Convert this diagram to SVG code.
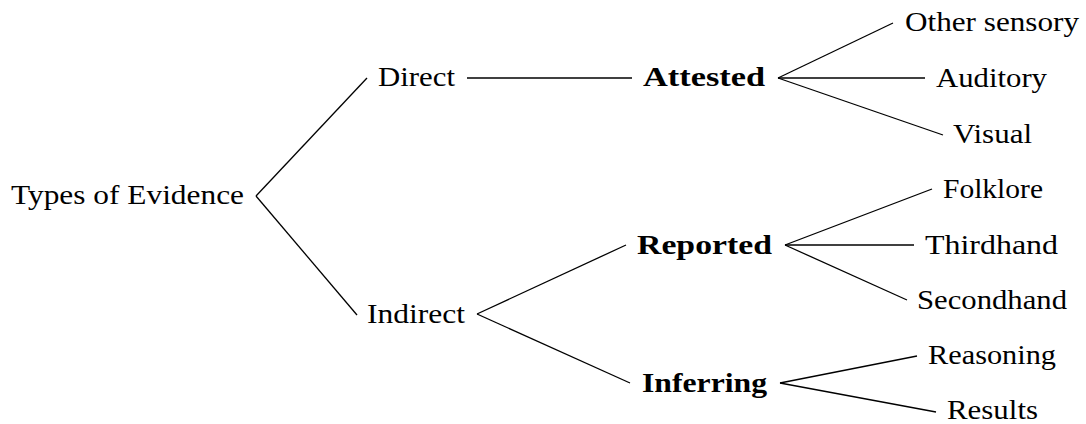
<svg xmlns="http://www.w3.org/2000/svg" width="1086" height="424" viewBox="0 0 1086 424">
<style>
text{font-family:"Liberation Serif","Times New Roman",Times,serif;font-size:28px;fill:#000;}
.b{font-weight:bold;}
.edge{stroke:#000;stroke-width:1.3;fill:none;}
</style>
<rect width="1086" height="424" fill="#fff"/>
<g id="connectors">
<line class="edge" x1="256" y1="196" x2="367" y2="78"/>
<line class="edge" x1="256" y1="196" x2="357" y2="315"/>
<line class="edge" x1="467" y1="78" x2="632" y2="78"/>
<line class="edge" x1="778" y1="78" x2="893" y2="23"/>
<line class="edge" x1="778" y1="78" x2="925" y2="78"/>
<line class="edge" x1="778" y1="78" x2="943" y2="135"/>
<line class="edge" x1="477" y1="314" x2="626" y2="245"/>
<line class="edge" x1="477" y1="314" x2="630" y2="383"/>
<line class="edge" x1="785" y1="245" x2="932" y2="189"/>
<line class="edge" x1="785" y1="245" x2="914" y2="245"/>
<line class="edge" x1="785" y1="245" x2="907" y2="300"/>
<line class="edge" x1="780" y1="383" x2="917" y2="356"/>
<line class="edge" x1="780" y1="383" x2="936" y2="412"/>
</g>
<g id="root"><text x="11" y="204" textLength="233" lengthAdjust="spacingAndGlyphs">Types of Evidence</text></g>
<g id="direct"><text x="378" y="86" textLength="77" lengthAdjust="spacingAndGlyphs">Direct</text></g>
<g id="attested"><text class="b" x="643" y="86" textLength="122" lengthAdjust="spacingAndGlyphs">Attested</text></g>
<g id="other-sensory"><text x="905" y="31" textLength="174" lengthAdjust="spacingAndGlyphs">Other sensory</text></g>
<g id="auditory"><text x="936" y="87" textLength="111" lengthAdjust="spacingAndGlyphs">Auditory</text></g>
<g id="visual"><text x="953" y="143" textLength="79" lengthAdjust="spacingAndGlyphs">Visual</text></g>
<g id="indirect"><text x="367" y="323" textLength="98" lengthAdjust="spacingAndGlyphs">Indirect</text></g>
<g id="reported"><text class="b" x="637" y="254" textLength="135" lengthAdjust="spacingAndGlyphs">Reported</text></g>
<g id="folklore"><text x="943" y="198" textLength="100" lengthAdjust="spacingAndGlyphs">Folklore</text></g>
<g id="thirdhand"><text x="925" y="254" textLength="133" lengthAdjust="spacingAndGlyphs">Thirdhand</text></g>
<g id="secondhand"><text x="917" y="309" textLength="150" lengthAdjust="spacingAndGlyphs">Secondhand</text></g>
<g id="inferring"><text class="b" x="642" y="392" textLength="125" lengthAdjust="spacingAndGlyphs">Inferring</text></g>
<g id="reasoning"><text x="928" y="364" textLength="128" lengthAdjust="spacingAndGlyphs">Reasoning</text></g>
<g id="results"><text x="947" y="419" textLength="91" lengthAdjust="spacingAndGlyphs">Results</text></g>
</svg>
